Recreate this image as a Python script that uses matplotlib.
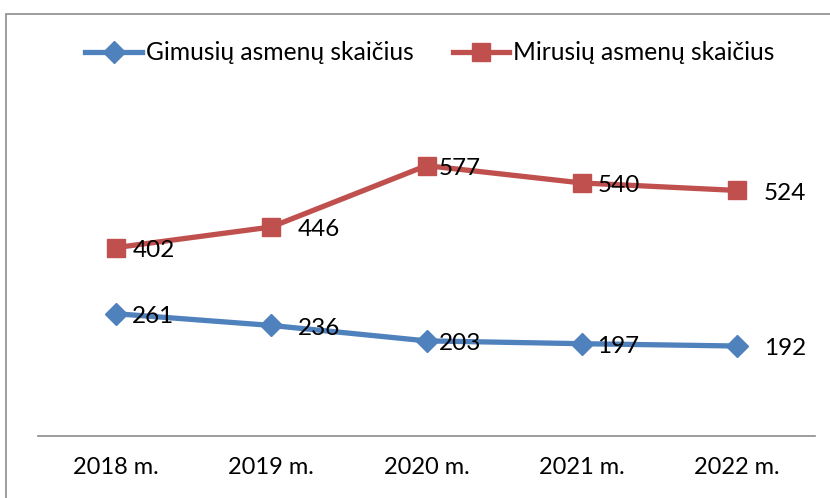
import matplotlib
matplotlib.use("Agg")
import matplotlib.pyplot as plt
from matplotlib.patches import Rectangle

years = ["2018 m.", "2019 m.", "2020 m.", "2021 m.", "2022 m."]
born = [261, 236, 203, 197, 192]
died = [402, 446, 577, 540, 524]
born_label = "Gimusių asmenų skaičius"
died_label = "Mirusių asmenų skaičius"

plt.rcParams['font.family'] = ['Lato', 'DejaVu Sans']

fig = plt.figure(figsize=(8.3, 4.98), dpi=100)
# chart frame (only left and top visible in reference)
fig.patches.append(Rectangle((6/830, -0.05), 1.2, 1 - 14/498 + 0.05, transform=fig.transFigure,
                             fill=False, edgecolor='#8c8c8c', linewidth=1.2))

ax = fig.add_axes([38/830, 1 - 436/498, (815 - 38)/830, (436 - 108)/498])
x = list(range(len(years)))
blue = '#4F81BD'
red = '#C0504D'
ax.plot(x, born, color=blue, linewidth=3.8, marker='D', markersize=11, label=born_label)
ax.plot(x, died, color=red, linewidth=3.8, marker='s', markersize=13, label=died_label)

ax.set_xlim(-0.5, len(years) - 0.5)
ax.set_ylim(0, 700)
ax.set_yticks([])
ax.set_xticks(x)
ax.set_xticklabels(years, fontsize=17)
ax.tick_params(axis='x', length=0, pad=15)
for s in ['top', 'right', 'left']:
    ax.spines[s].set_visible(False)
ax.spines['bottom'].set_color('#8c8c8c')
ax.spines['bottom'].set_linewidth(1.2)

born_off = [12, 19, 9, 11, 19]
died_off = [12, 19, 9, 11, 19]
for i, v in enumerate(born):
    ax.annotate(str(v), (i, v), xytext=(born_off[i], -2), textcoords='offset points',
                ha='left', va='center', fontsize=17.5)
for i, v in enumerate(died):
    ax.annotate(str(v), (i, v), xytext=(died_off[i], -2), textcoords='offset points',
                ha='left', va='center', fontsize=17.5)

fig.legend(loc='center', bbox_to_anchor=(0.518, 1 - 53/498), ncol=2, frameon=False,
           fontsize=17.7, handlelength=2.3, handletextpad=0.15, columnspacing=1.6)

fig.savefig('out.png', dpi=100)
